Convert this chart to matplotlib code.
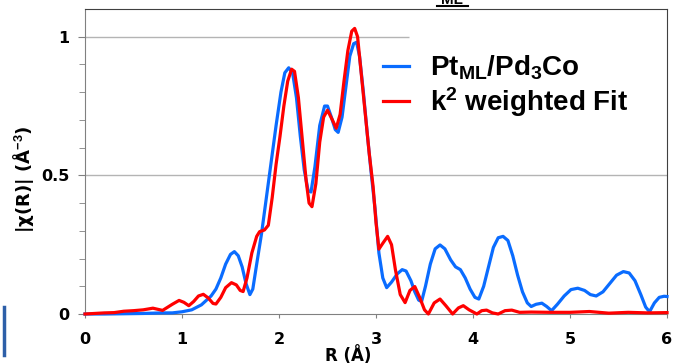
import matplotlib

matplotlib.use("Agg")
import matplotlib.pyplot as plt
from matplotlib.lines import Line2D

# |chi(R)|, R in Angstrom
r_data = [0.0, 0.2, 0.4, 0.6, 0.8, 0.9, 1.0, 1.1, 1.2, 1.3, 1.35, 1.4, 1.45, 1.5,
          1.54, 1.58, 1.62, 1.66, 1.70, 1.73, 1.77, 1.82, 1.87, 1.92, 1.97, 2.02,
          2.06, 2.10, 2.14, 2.18, 2.22, 2.26, 2.30, 2.33, 2.37, 2.42, 2.47, 2.50,
          2.54, 2.58, 2.61, 2.65, 2.69, 2.73, 2.77, 2.80, 2.83, 2.87, 2.91, 2.95,
          2.99, 3.03, 3.07, 3.11, 3.16, 3.22, 3.27, 3.31, 3.36, 3.40, 3.44, 3.47,
          3.51, 3.56, 3.61, 3.66, 3.71, 3.77, 3.82, 3.87, 3.92, 3.97, 4.02, 4.06,
          4.11, 4.16, 4.21, 4.26, 4.31, 4.36, 4.41, 4.46, 4.51, 4.56, 4.60, 4.65,
          4.71, 4.76, 4.81, 4.87, 4.94, 5.01, 5.08, 5.15, 5.21, 5.27, 5.34, 5.41,
          5.48, 5.55, 5.61, 5.67, 5.73, 5.78, 5.82, 5.87, 5.92, 5.97, 6.0]
chi_data = [0.000, 0.000, 0.001, 0.002, 0.004, 0.004, 0.008, 0.015, 0.033, 0.065,
            0.090, 0.130, 0.180, 0.215, 0.225, 0.210, 0.170, 0.110, 0.070, 0.090,
            0.180, 0.290, 0.420, 0.550, 0.680, 0.800, 0.870, 0.888, 0.870, 0.780,
            0.640, 0.520, 0.445, 0.440, 0.530, 0.680, 0.750, 0.750, 0.710, 0.665,
            0.655, 0.710, 0.820, 0.930, 0.975, 0.980, 0.930, 0.800, 0.650, 0.510,
            0.380, 0.220, 0.130, 0.095, 0.115, 0.145, 0.160, 0.155, 0.120, 0.080,
            0.050, 0.045, 0.100, 0.180, 0.235, 0.249, 0.235, 0.195, 0.170, 0.160,
            0.130, 0.090, 0.060, 0.054, 0.100, 0.170, 0.240, 0.275, 0.280, 0.265,
            0.210, 0.140, 0.080, 0.040, 0.027, 0.035, 0.039, 0.027, 0.012, 0.035,
            0.065, 0.088, 0.093, 0.085, 0.070, 0.065, 0.080, 0.110, 0.140, 0.153,
            0.148, 0.120, 0.070, 0.025, 0.008, 0.040, 0.060, 0.064, 0.063]

r_fit = [0.0, 0.1, 0.2, 0.3, 0.4, 0.5, 0.6, 0.7, 0.8, 0.9, 0.97, 1.02, 1.07, 1.12,
         1.17, 1.22, 1.27, 1.32, 1.35, 1.40, 1.45, 1.51, 1.56, 1.60, 1.63, 1.67,
         1.72, 1.77, 1.80, 1.85, 1.89, 1.93, 1.97, 2.01, 2.05, 2.09, 2.13, 2.16,
         2.20, 2.24, 2.28, 2.31, 2.34, 2.38, 2.42, 2.46, 2.50, 2.55, 2.59, 2.63,
         2.67, 2.71, 2.75, 2.78, 2.81, 2.85, 2.89, 2.93, 2.97, 3.00, 3.03, 3.07,
         3.12, 3.16, 3.20, 3.25, 3.30, 3.35, 3.40, 3.45, 3.50, 3.54, 3.60, 3.66,
         3.72, 3.79, 3.85, 3.90, 3.96, 4.04, 4.09, 4.14, 4.20, 4.26, 4.33, 4.40,
         4.48, 4.6, 4.8, 5.0, 5.2, 5.4, 5.6, 5.8, 6.0]
chi_fit = [0.000, 0.002, 0.004, 0.005, 0.010, 0.012, 0.015, 0.021, 0.013, 0.035,
           0.049, 0.042, 0.030, 0.045, 0.065, 0.071, 0.058, 0.038, 0.036, 0.060,
           0.095, 0.113, 0.105, 0.085, 0.081, 0.130, 0.220, 0.280, 0.297, 0.303,
           0.320, 0.420, 0.540, 0.640, 0.750, 0.840, 0.883, 0.875, 0.780, 0.630,
           0.480, 0.400, 0.387, 0.470, 0.620, 0.710, 0.735, 0.700, 0.670, 0.720,
           0.840, 0.950, 1.020, 1.030, 1.000, 0.860, 0.720, 0.580, 0.460, 0.330,
           0.234, 0.255, 0.280, 0.250, 0.160, 0.070, 0.041, 0.085, 0.099, 0.060,
           0.015, 0.000, 0.040, 0.054, 0.030, 0.000, 0.022, 0.030, 0.015, 0.000,
           0.012, 0.014, 0.004, 0.000, 0.012, 0.014, 0.006, 0.007, 0.006, 0.006,
           0.009, 0.003, 0.006, 0.004, 0.005]

plt.rcParams["font.family"] = ["Liberation Sans", "DejaVu Sans"]
plt.rcParams["font.weight"] = "bold"
plt.rcParams["mathtext.fontset"] = "custom"
plt.rcParams["mathtext.rm"] = "Liberation Sans:bold"
plt.rcParams["mathtext.bf"] = "Liberation Sans:bold"
plt.rcParams["mathtext.default"] = "bf"

fig = plt.figure(figsize=(6.73, 3.64), dpi=100)
ax = fig.add_axes([85 / 673, 50 / 364, 582 / 673, 305 / 364])

# gridlines (the upper one is hidden behind the legend area)
ax.hlines(0.5, 0, 6, color="#b4b4b4", lw=1, zorder=0)
ax.hlines(1.0, 0, 3.34, color="#b4b4b4", lw=1, zorder=0)

ax.plot(r_data, chi_data, color="#0a6cff", lw=2.3, label=r"Pt$_{ML}$/Pd$_3$Co",
        solid_joinstyle="round", clip_on=False, zorder=3)
ax.plot(r_fit, chi_fit, color="#ff0000", lw=2.3, label=r"k$^2$ weighted Fit",
        solid_joinstyle="round", clip_on=False, zorder=4)

ax.set_xlim(0, 6)
ax.set_ylim(0, 1.1)
ax.set_xticks(range(7))
ax.set_yticks([0, 0.5, 1])
ax.set_yticklabels(["0", "0.5", "1"])
ax.set_yticks([i / 10 for i in range(11)], minor=True)
ax.tick_params(axis="both", which="major", direction="out", length=5,
               color="#808080", labelsize=11.5, pad=6)
ax.tick_params(axis="y", which="minor", direction="out", length=4, color="#808080")
ax.tick_params(axis="x", which="major", length=3, pad=10)
for lbl in ax.get_xticklabels() + ax.get_yticklabels():
    lbl.set_fontweight("bold")
    lbl.set_fontfamily("DejaVu Sans")

for side in ("left", "bottom"):
    ax.spines[side].set_color("#808080")
for side in ("top", "right"):
    ax.spines[side].set_color("#404040")

ax.set_xlabel("R (Å)", fontsize=12, fontweight="bold", fontfamily="DejaVu Sans")
ax.xaxis.set_label_coords(0.452, -0.135)
ax.xaxis.label.set_va("center")
ax.set_ylabel(r"|χ(R)| (Å$^{-3}$)", fontsize=13, fontweight="bold",
              fontfamily="DejaVu Sans")
ax.yaxis.set_label_coords(-0.105, 0.44)
ax.yaxis.label.set_va("center")

ax.legend(loc="upper left", bbox_to_anchor=(0.512, 0.855), frameon=False,
          fontsize=20, handlelength=0.95, handletextpad=0.75, labelspacing=0.12,
          borderaxespad=0, borderpad=0)

# remnants of the cropped header and a stray bar at the left edge
fig.text(452 / 673, 1.0, "ML", fontsize=11, fontweight="bold", ha="center", va="center")
fig.add_artist(Line2D([437 / 673, 468 / 673], [1 - 6 / 364, 1 - 6 / 364],
                      color="black", lw=1.5))
fig.add_artist(Line2D([4 / 673, 4 / 673], [1 - 307 / 364, 1 - 355 / 364],
                      color="#2d5fa8", lw=2.5))

fig.savefig("out.png", dpi=100)
